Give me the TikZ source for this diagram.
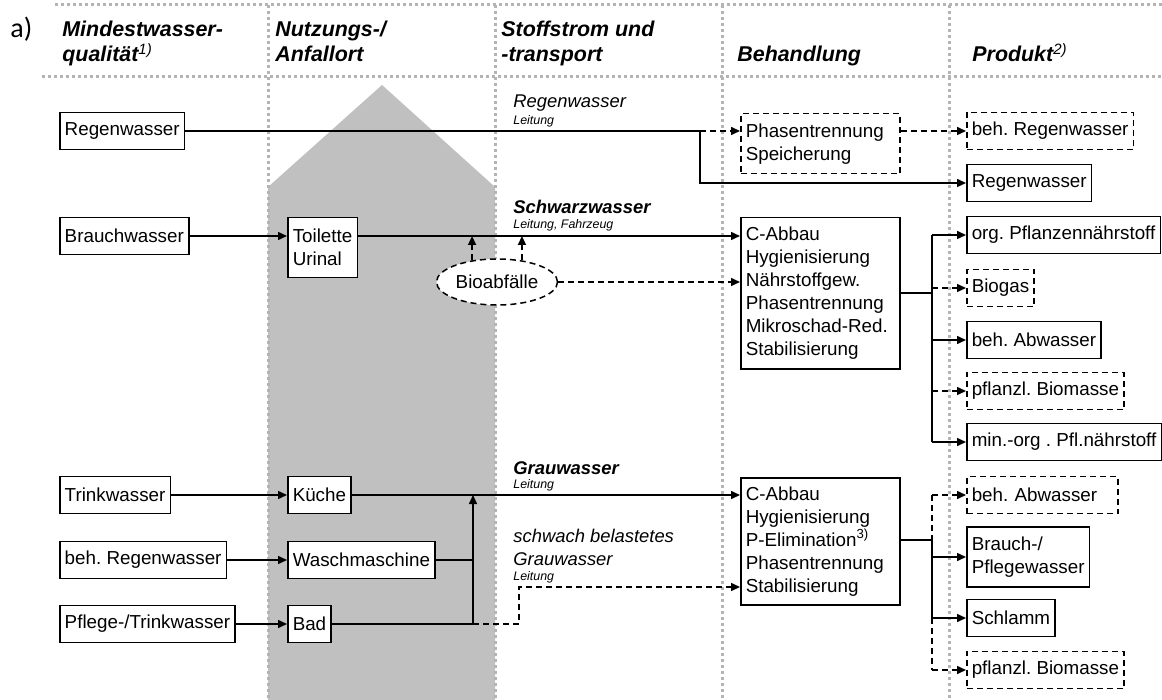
\documentclass[tikz,border=0pt]{standalone}
\usepackage{fontspec}
\setmainfont{Liberation Sans}
\newfontfamily\carlito{Carlito}
\usepackage{xcolor}
\usetikzlibrary{arrows.meta, shapes.geometric}
\frenchspacing
\definecolor{gridGray}{RGB}{180,180,180}
\definecolor{arrowGray}{RGB}{192,192,192}
\tikzset{
lineMe/.style={line width=0.75pt},
arrowMe/.style={lineMe, -{Triangle[length=4.5pt,width=4pt]}},
dashMe/.style={lineMe, dash pattern=on 3pt off 2pt},
dashArrow/.style={arrowMe, dash pattern=on 3pt off 2pt},
gridMe/.style={draw=gridGray, line width=1.5pt, dash pattern=on 1.5pt off 1.5pt},
boxMe/.style={draw, fill=white, line width=0.75pt, inner xsep=2.5pt, inner ysep=0pt,
    minimum height=18.5pt, align=left, font=\fontsize{9.4}{11.5}\selectfont},
boxDash/.style={boxMe, dash pattern=on 3pt off 2pt},
bioMe/.style={ellipse, draw, fill=white, dashMe, inner sep=0pt, minimum width=60.5pt,
    minimum height=23pt, font=\fontsize{9.4}{11.5}\selectfont},
headMe/.style={anchor=base west, inner sep=0pt, align=left,
    font=\fontsize{10.7}{12.5}\selectfont\bfseries\itshape},
flowMe/.style={anchor=base west, inner sep=0pt, font=\fontsize{9.2}{11}\selectfont\itshape},
flowBold/.style={flowMe, font=\fontsize{9.2}{11}\selectfont\bfseries\itshape},
pipeMe/.style={anchor=base west, inner sep=0pt, font=\fontsize{6.2}{7}\selectfont\itshape}
}

\begin{document}
\begin{tikzpicture}[x=0.5pt,y=-0.5pt]
    \useasboundingbox (0,0) rectangle (1162,700);
    \clip (0,0) rectangle (1162,700);
    \fill[arrowGray] (268,700) -- (268,187) -- (382,85) -- (495,187) -- (495,700) -- cycle;
    \draw[gridMe] (55,5) -- (1162,5);
    \draw[gridMe] (42,77) -- (1162,77);
    \foreach \x in {268,495,722,949}
        \draw[gridMe] (\x,5) -- (\x,700);

    % Spaltenkoepfe
    \node[anchor=base west, inner sep=0pt, font=\carlito\fontsize{14}{16}\selectfont] (a) at (10,38) {a)};
    \node[headMe] (h_1) at (62,62) {Mindestwasser-\\qualität\textsuperscript{\mdseries 1)}};
    \node[headMe] (h_2) at (275,62) {Nutzungs-/\\Anfallort};
    \node[headMe] (h_3) at (501,62) {Stoffstrom und\\-transport};
    \node[headMe] (h_4) at (737,62) {Behandlung};
    \node[headMe] (h_5) at (972,62) {Produkt\textsuperscript{\mdseries 2)}};

    \node[flowMe] (f_1) at (513,108) {Regenwasser};
    \node[pipeMe] (l_1) at (513,125) {Leitung};
    \node[flowBold] (f_2) at (513,214) {Schwarzwasser};
    \node[pipeMe] (l_2) at (513,229) {Leitung, Fahrzeug};
    \node[flowBold] (f_3) at (513,474) {Grauwasser};
    \node[pipeMe] (l_3) at (513,488) {Leitung};
    \node[flowMe] (f_4) at (513,542) {schwach belastetes};
    \node[flowMe] (f_5) at (513,565) {Grauwasser};
    \node[pipeMe] (l_4) at (513,580) {Leitung};

    \node[boxMe, anchor=west] (q_1) at (59,131) {Regenwasser};
    \node[boxMe, anchor=west] (q_2) at (59,236) {Brauchwasser};
    \node[boxMe, anchor=west] (q_3) at (59,495) {Trinkwasser};
    \node[boxMe, anchor=west] (q_4) at (59,560) {beh. Regenwasser};
    \node[boxMe, anchor=west] (q_5) at (59,624) {Pflege-/Trinkwasser};

    \node[boxMe, anchor=north west, minimum height=30pt] (n_1) at (287,217) {Toilette\\Urinal};
    \node[boxMe, anchor=west] (n_2) at (287,495) {Küche};
    \node[boxMe, anchor=west] (n_3) at (287,560) {Waschmaschine};
    \node[boxMe, anchor=west] (n_4) at (287,624) {Bad};
    \node[bioMe] (bio) at (497,282) {Bioabfälle};

    \node[boxDash, anchor=north west, text width=74.5pt, minimum height=30pt] (b_0) at (740,113) {Phasentrennung\\Speicherung};
    \node[boxMe, anchor=north west, text width=74.5pt, minimum height=75.5pt] (b_1) at (740,217)
        {C-Abbau\\Hygienisierung\\Nährstoffgew.\\Phasentrennung\\Mikroschad-Red.\\Stabilisierung};
    \node[boxMe, anchor=north west, text width=74.5pt, minimum height=63.5pt] (b_2) at (740,477)
        {C-Abbau\\Hygienisierung\\P-Elimination\textsuperscript{3)}\\Phasentrennung\\Stabilisierung};

    \node[boxDash, anchor=west] (p_1) at (966,131) {beh. Regenwasser};
    \node[boxMe, anchor=west] (p_2) at (966,183) {Regenwasser};
    \node[boxMe, anchor=west] (p_3) at (966,235) {org. Pflanzennährstoff};
    \node[boxDash, anchor=west] (p_4) at (966,288) {Biogas};
    \node[boxMe, anchor=west] (p_5) at (966,340) {beh. Abwasser};
    \node[boxDash, anchor=west] (p_6) at (966,391) {pflanzl. Biomasse};
    \node[boxMe, anchor=west] (p_7) at (966,442) {min.-org . Pfl.nährstoff};
    \node[boxDash, anchor=west, text width=70.5pt] (p_8) at (966,495) {beh. Abwasser};
    \node[boxMe, anchor=west, minimum height=30pt] (p_9) at (966,557) {Brauch-/\\Pflegewasser};
    \node[boxMe, anchor=west] (p_10) at (966,618) {Schlamm};
    \node[boxDash, anchor=west] (p_11) at (966,670) {pflanzl. Biomasse};

    % Regenwasser
    \coordinate (j_1) at (700,131);
    \draw[lineMe] (q_1.east) -- (j_1);
    \draw[arrowMe] (j_1) |- (p_2.west);
    \draw[dashArrow] (j_1) -- (j_1 -| b_0.west);
    \draw[dashArrow] (b_0.east |- p_1) -- (p_1.west);

    % Schwarzwasser
    \draw[arrowMe] (q_2.east) -- (q_2 -| n_1.west);
    \draw[arrowMe] (n_1.east |- q_2) -- (q_2 -| b_1.west);
    \draw[dashArrow] (bio.139) -- (bio.139 |- q_2);
    \draw[dashArrow] (bio.41) -- (bio.41 |- q_2);
    \draw[dashArrow] (bio.east) -- (bio.east -| b_1.west);
    \coordinate (k_1) at (932,293);
    \draw[lineMe] (b_1.east |- k_1) -- (k_1);
    \draw[lineMe] (k_1 |- p_3) -- (k_1 |- p_7);
    \foreach \p/\s in {p_3/arrowMe, p_4/dashArrow, p_5/arrowMe, p_6/dashArrow, p_7/arrowMe}
        \draw[\s] (k_1 |- \p) -- (\p.west);

    % Grauwasser
    \coordinate (j_3) at (473,495);
    \coordinate (j_4) at (519,587);
    \draw[arrowMe] (q_3.east) -- (n_2.west);
    \draw[arrowMe] (q_4.east) -- (n_3.west);
    \draw[arrowMe] (q_5.east) -- (n_4.west);
    \draw[arrowMe] (n_2.east) -- (n_2 -| b_2.west);
    \draw[lineMe] (n_3.east) -- (n_3 -| j_3);
    \draw[lineMe] (n_4.east) -- (n_4 -| j_3);
    \draw[arrowMe] (n_4 -| j_3) -- (j_3);
    \draw[dashArrow] (n_4 -| j_3) -| (j_4) -- (j_4 -| b_2.west);
    \coordinate (k_2) at (932,540);
    \draw[lineMe] (b_2.east |- k_2) -- (k_2);
    \draw[dashMe] (k_2 |- p_8) -- (k_2);
    \draw[lineMe] (k_2) -- (k_2 |- p_10);
    \draw[dashMe] (k_2 |- p_10) -- (k_2 |- p_11);
    \foreach \p/\s in {p_8/dashArrow, p_9/arrowMe, p_10/arrowMe, p_11/dashArrow}
        \draw[\s] (k_2 |- \p) -- (\p.west);
\end{tikzpicture}
\end{document}
